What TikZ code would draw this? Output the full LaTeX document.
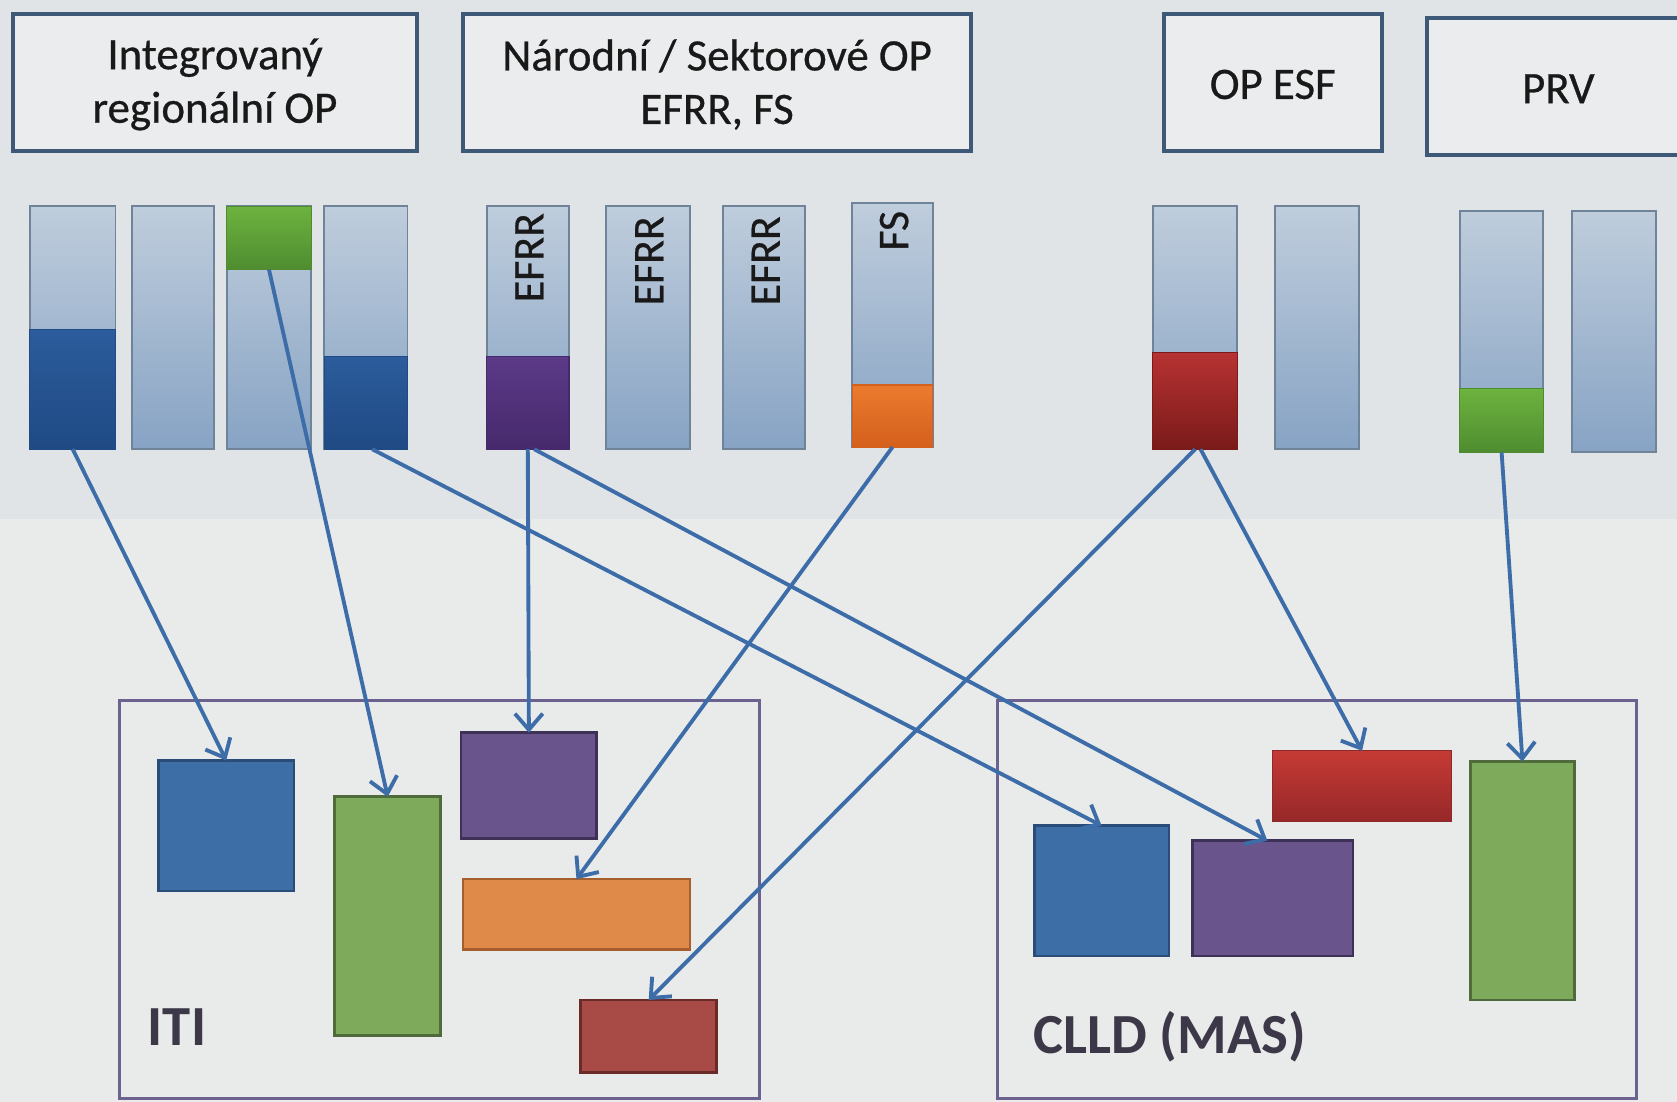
\documentclass[tikz,border=0pt]{standalone}
\usepackage{fontspec}
\setmainfont{Carlito}
\newfontface\semib{Carlito}[FakeBold=0.6]
\usetikzlibrary{arrows.meta,calc}
\definecolor{bgtop}{HTML}{E1E4E6}
\definecolor{bgbot}{HTML}{E9EBEA}
\definecolor{frame}{HTML}{3E5878}
\definecolor{bartop}{HTML}{BFCDDC}
\definecolor{barbot}{HTML}{87A3C4}
\definecolor{barline}{HTML}{6F8399}
\definecolor{arr}{HTML}{3D6DA8}
\definecolor{cont}{HTML}{6C6290}
\definecolor{lbl}{HTML}{3C3848}
\definecolor{bluetop}{HTML}{2C5C9C}
\definecolor{bluebot}{HTML}{1F4A84}
\definecolor{greentop}{HTML}{6DB33F}
\definecolor{greenbot}{HTML}{4F8C30}
\definecolor{purptop}{HTML}{5C3A88}
\definecolor{purpbot}{HTML}{46296C}
\definecolor{orangetop}{HTML}{EC7A2E}
\definecolor{orangebot}{HTML}{D4601C}
\definecolor{redtop}{HTML}{B73232}
\definecolor{redbot}{HTML}{7A1A1A}
\definecolor{blkblue}{HTML}{3D6EA6}
\definecolor{blkblueb}{HTML}{2A4C78}
\definecolor{blkgreen}{HTML}{7DAB5B}
\definecolor{blkgreenb}{HTML}{4F6B3B}
\definecolor{blkpurp}{HTML}{6A548C}
\definecolor{blkpurpb}{HTML}{3E3158}
\definecolor{blkorange}{HTML}{E08A4A}
\definecolor{blkorangeb}{HTML}{A55E2C}
\definecolor{blkred}{HTML}{A84B47}
\definecolor{blkredb}{HTML}{6A2A28}
\definecolor{crtop}{HTML}{C53A35}
\definecolor{crbot}{HTML}{962828}
\definecolor{crline}{HTML}{8A2A2A}
\begin{document}
\begin{tikzpicture}[x=1pt,y=-1pt,
  rect/.style={inner sep=0pt,outer sep=0pt,anchor=north west},
  opbox/.style={rect,draw=frame,line width=3.5pt,fill=bgtop!70!white},
  bar/.style={rect,draw=barline,line width=1.8pt,top color=bartop,bottom color=barbot},
  part/.style 2 args={rect,draw=#2,line width=1pt,top color=#1,bottom color=#2},
  blk/.style 2 args={rect,draw=#2,line width=2.5pt,fill=#1},
  container/.style={rect,draw=cont,line width=3pt},
  optext/.style={font=\semib\fontsize{42}{50}\selectfont,align=center,text=black!90},
  bartext/.style={font=\semib\fontsize{41}{44}\selectfont,rotate=90,anchor=east,text=black!90,inner sep=0pt},
  biglbl/.style={font=\fontsize{53}{60}\selectfont\bfseries,text=lbl,anchor=base west,inner sep=0pt},
  link/.style={draw=arr,line width=3.6pt,-{Straight Barb[length=15pt,width=26pt]}}
]
\clip (0,0) rectangle (1568,1030);
\useasboundingbox (0,0) rectangle (1568,1030);
\fill[bgtop] (0,0) rectangle (1568,485);
\fill[bgbot] (0,485) rectangle (1568,1030);

% top boxes
\node[opbox,minimum width=378pt,minimum height=128pt] (irop) at (12,13) {};
\node[optext] (iropt) at ($(irop.center)+(0,2)$) {Integrovaný\\regionální OP};
\node[opbox,minimum width=475pt,minimum height=128pt] (nsop) at (433,13) {};
\node[optext] (nsopt) at ($(nsop.center)+(0,2)$) {Národní / Sektorové OP\\EFRR, FS};
\node[opbox,minimum width=204pt,minimum height=128pt] (esf) at (1088,13) {};
\node[optext] (esft) at ($(esf.center)+(0,2)$) {OP ESF};
\node[opbox,minimum width=251pt,minimum height=128pt] (prv) at (1334,17) {};
\node[optext] (prvt) at (1457,83) {PRV};

% bars
\node[bar,minimum width=80pt,minimum height=227pt] (b1) at (28,193) {};
\node[part={bluetop}{bluebot},minimum width=80pt,minimum height=112pt] (b1f) at (28,308) {};
\node[bar,minimum width=77pt,minimum height=227pt] (b2) at (123,193) {};
\node[bar,minimum width=79pt,minimum height=227pt] (b3) at (212,193) {};
\node[part={greentop}{greenbot},minimum width=79pt,minimum height=59pt] (b3f) at (212,193) {};
\node[bar,minimum width=78pt,minimum height=227pt] (b4) at (303,193) {};
\node[part={bluetop}{bluebot},minimum width=78pt,minimum height=87pt] (b4f) at (303,333) {};

\node[bar,minimum width=77pt,minimum height=227pt] (e1) at (455,193) {};
\node[part={purptop}{purpbot},minimum width=77pt,minimum height=87pt] (e1f) at (455,333) {};
\node[bartext] (e1t) at (495,199) {EFRR};
\node[bar,minimum width=78pt,minimum height=227pt] (e2) at (567,193) {};
\node[bartext] (e2t) at (607,202) {EFRR};
\node[bar,minimum width=77pt,minimum height=227pt] (e3) at (676,193) {};
\node[bartext] (e3t) at (716,202) {EFRR};
\node[bar,minimum width=75pt,minimum height=228pt] (fs) at (797,190) {};
\node[part={orangetop}{orangebot},minimum width=75pt,minimum height=58pt] (fsf) at (797,360) {};
\node[bartext] (fst) at (836,197) {FS};

\node[bar,minimum width=79pt,minimum height=227pt] (s1) at (1078,193) {};
\node[part={redtop}{redbot},minimum width=79pt,minimum height=90pt] (s1f) at (1078,330) {};
\node[bar,minimum width=79pt,minimum height=227pt] (s2) at (1192,193) {};

\node[bar,minimum width=78pt,minimum height=226pt] (p1) at (1365,197) {};
\node[part={greentop}{greenbot},minimum width=78pt,minimum height=60pt] (p1f) at (1365,363) {};
\node[bar,minimum width=78pt,minimum height=226pt] (p2) at (1470,197) {};

% containers
\node[container,minimum width=598pt,minimum height=372pt] (iti) at (112,655) {};
\node[biglbl] (itit) at (138,978) {ITI};
\node[container,minimum width=597pt,minimum height=372pt] (clld) at (933,655) {};
\node[biglbl] (clldt) at (966,985) {CLLD (MAS)};

% ITI blocks
\node[blk={blkblue}{blkblueb},minimum width=127pt,minimum height=122pt] (ib) at (148,711) {};
\node[blk={blkgreen}{blkgreenb},minimum width=99pt,minimum height=223pt] (ig) at (313,745) {};
\node[blk={blkpurp}{blkpurpb},minimum width=127pt,minimum height=99pt] (ip) at (431,685) {};
\node[blk={blkorange}{blkorangeb},minimum width=212pt,minimum height=66pt] (io) at (433,822) {};
\node[blk={blkred}{blkredb},minimum width=127pt,minimum height=68pt] (ir) at (543,935) {};

% CLLD blocks
\node[blk={blkblue}{blkblueb},minimum width=126pt,minimum height=122pt] (cb) at (967,772) {};
\node[blk={blkpurp}{blkpurpb},minimum width=150pt,minimum height=108pt] (cp) at (1115,786) {};
\node[rect,draw=crline,line width=1pt,top color=crtop,bottom color=crbot,minimum width=167pt,minimum height=66pt] (cr) at (1190,702) {};
\node[blk={blkgreen}{blkgreenb},minimum width=97pt,minimum height=223pt] (cg) at (1375,712) {};

% connectors
\draw[link] (b1f.south) -- (ib.north);
\draw[link] (b3f.south) -- (ig.north);
\draw[link] ($(b4f.south)+(6,0)$) -- (cb.north);
\draw[link] (e1f.south) -- (ip.north);
\draw[link] ($(e1f.south)+(6,0)$) -- ($(cp.north)-(5,0)$);
\draw[link] (fsf.south) -- (io.north);
\draw[link] (s1f.south) -- (ir.north);
\draw[link] ($(s1f.south)+(5,0)$) -- (cr.north);
\draw[link] (p1f.south) -- (cg.north);
\end{tikzpicture}
\end{document}
